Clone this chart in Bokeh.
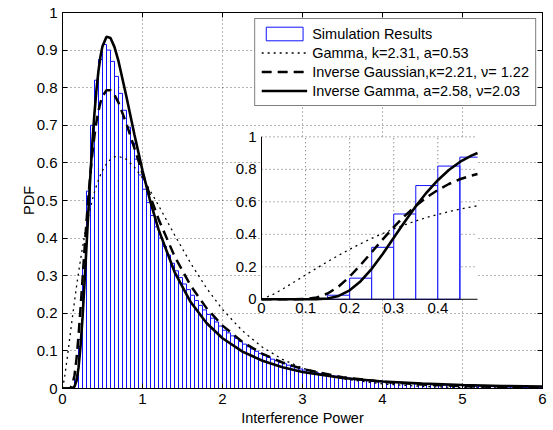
import numpy as np
from bokeh.plotting import figure
from bokeh.models import Range1d, LinearAxis, FixedTicker, CustomJSTickFormatter
from bokeh.embed import file_html
from bokeh.resources import INLINE
from bokeh.core.properties import value

FONT = "Liberation Sans"

# ---------------- data ----------------
x_ticks = [0, 1, 2, 3, 4, 5, 6]
x_tick_labels = ["0", "1", "2", "3", "4", "5", "6"]
y_ticks = [0, 0.1, 0.2, 0.3, 0.4, 0.5, 0.6, 0.7, 0.8, 0.9, 1]
y_tick_labels = ["0", "0.1", "0.2", "0.3", "0.4", "0.5", "0.6", "0.7", "0.8", "0.9", "1"]

inset_x_ticks = [0, 0.1, 0.2, 0.3, 0.4]
inset_x_tick_labels = ["0", "0.1", "0.2", "0.3", "0.4"]
inset_y_ticks = [0, 0.2, 0.4, 0.6, 0.8, 1]
inset_y_tick_labels = ["0", "0.2", "0.4", "0.6", "0.8", "1"]

bin_width = 0.05
hist_values = [
    0.000, 0.000, 0.003, 0.025, 0.130, 0.320, 0.525, 0.700, 0.820, 0.875,
    0.915, 0.900, 0.870, 0.830, 0.785, 0.740, 0.695, 0.653, 0.610, 0.568,
    0.530, 0.495, 0.460, 0.430, 0.400, 0.378, 0.355, 0.333, 0.313, 0.295,
    0.278, 0.263, 0.248, 0.234, 0.221, 0.209, 0.197, 0.187, 0.177, 0.166,
    0.155, 0.148, 0.140, 0.133, 0.125, 0.118, 0.111, 0.105, 0.099, 0.093,
    0.088, 0.083, 0.078, 0.074, 0.069, 0.066, 0.062, 0.058, 0.055, 0.052,
    0.049, 0.047, 0.044, 0.042, 0.040, 0.038, 0.036, 0.034, 0.033, 0.031,
    0.030, 0.028, 0.027, 0.026, 0.025, 0.024, 0.023, 0.022, 0.021, 0.020,
    0.019, 0.018, 0.017, 0.017, 0.016, 0.015, 0.014, 0.014, 0.013, 0.012,
    0.012, 0.011, 0.011, 0.010, 0.010, 0.009, 0.009, 0.008, 0.008, 0.008,
    0.007, 0.007, 0.007, 0.006, 0.006, 0.006, 0.005, 0.005, 0.005, 0.005,
    0.004, 0.004, 0.004, 0.004, 0.004, 0.003, 0.003, 0.003, 0.003, 0.003,
]

curve_x = [0, 0.025, 0.05, 0.075, 0.1, 0.125, 0.15, 0.175, 0.2, 0.225, 0.25,
           0.275, 0.3, 0.325, 0.35, 0.375, 0.4, 0.425, 0.45, 0.475, 0.49, 0.5,
           0.55, 0.6, 0.65, 0.7, 0.8, 0.9, 1.0, 1.1, 1.2, 1.4, 1.6, 1.8, 2.0,
           2.25, 2.5, 2.75, 3.0, 3.5, 4.0, 4.5, 5.0, 5.5, 6.0]

gamma_pdf = [0, 0.0281, 0.0664, 0.1077, 0.1497, 0.1913, 0.2318, 0.2706, 0.3074,
             0.3421, 0.3747, 0.4050, 0.4330, 0.4587, 0.4822, 0.5035, 0.5226,
             0.5397, 0.5549, 0.5682, 0.5753, 0.5797, 0.5977, 0.6095, 0.6159,
             0.6176, 0.6092, 0.5886, 0.5596, 0.5249, 0.4871, 0.4088, 0.3339,
             0.2671, 0.2103, 0.1531, 0.1096, 0.0775, 0.0542, 0.0258, 0.0120,
             0.0054, 0.0024, 0.0011, 0.0005]

inv_gauss_pdf = [0, 0, 0, 0.0001, 0.0017, 0.0108, 0.0353, 0.0788, 0.1394,
                 0.2119, 0.2902, 0.3691, 0.4444, 0.5136, 0.5751, 0.6283, 0.6730,
                 0.7098, 0.7388, 0.7609, 0.7712, 0.7769, 0.7932, 0.7931, 0.7809,
                 0.7602, 0.7037, 0.6383, 0.5722, 0.5091, 0.4510, 0.3519, 0.2741,
                 0.2137, 0.1673, 0.1238, 0.0922, 0.0691, 0.0521, 0.0301, 0.0177,
                 0.0105, 0.0064, 0.0039, 0.0024]

inv_gamma_pdf = [0, 0, 0, 0, 0, 0.0007, 0.0052, 0.0207, 0.0548, 0.1111, 0.1877,
                 0.2792, 0.3783, 0.4779, 0.5728, 0.6586, 0.7331, 0.7955, 0.8453,
                 0.8830, 0.9005, 0.9101, 0.9358, 0.9322, 0.9079, 0.8704, 0.7754,
                 0.6743, 0.5794, 0.4954, 0.4231, 0.3103, 0.2306, 0.1742, 0.1337,
                 0.0982, 0.0737, 0.0564, 0.0439, 0.0278, 0.0186, 0.0129, 0.0092,
                 0.0068, 0.0052]

labels = ["Simulation Results",
          "Gamma, k=2.31, a=0.53",
          "Inverse Gaussian,\u03ba=2.21, \u03bd= 1.22",
          "Inverse Gamma, a=2.58, \u03bd=2.03"]

BAR_BLUE = "#1010ff"
DOT = dict(line_color="black", line_width=1.3, line_dash="2 4")
DASH = dict(line_color="black", line_width=2.5, line_dash="10 6")
SOLID = dict(line_color="black", line_width=2.6)

# ---------------- main figure ----------------
p = figure(width=553, height=430, x_range=Range1d(0, 6), y_range=Range1d(0, 1),
           output_backend="svg", toolbar_location=None,
           min_border_left=62, min_border_right=11, min_border_top=12, min_border_bottom=42)
p.background_fill_color = "white"
p.border_fill_color = "white"
p.outline_line_color = "black"
p.outline_line_width = 1

left_edges = np.arange(len(hist_values)) * bin_width
right_edges = left_edges + bin_width
hist_top = np.array(hist_values)

p.quad(left=left_edges, right=right_edges, bottom=0, top=hist_top,
       fill_color="white", line_color=BAR_BLUE, line_width=1, legend_label=labels[0])
p.line(curve_x, gamma_pdf, legend_label=labels[1], **DOT)
p.line(curve_x, inv_gauss_pdf, legend_label=labels[2], **DASH)
p.line(curve_x, inv_gamma_pdf, legend_label=labels[3], **SOLID)

# axes
xa = p.xaxis[0]
ya = p.yaxis[0]
xa.ticker = FixedTicker(ticks=x_ticks)
ya.ticker = FixedTicker(ticks=y_ticks)
xa.major_label_overrides = dict(zip(x_ticks, x_tick_labels))
ya.major_label_overrides = dict(zip(y_ticks, y_tick_labels))
xa.axis_label = "Interference Power"
ya.axis_label = "PDF"
for ax in (xa, ya):
    ax.major_tick_in = 5
    ax.major_tick_out = 0
    ax.minor_tick_line_color = None
    ax.axis_line_color = "black"
    ax.major_tick_line_color = "black"
    ax.major_label_text_font = FONT
    ax.major_label_text_font_size = "15px"
    ax.major_label_text_color = "black"
    ax.axis_label_text_font = FONT
    ax.axis_label_text_font_size = "14.5px"
    ax.axis_label_text_font_style = "normal"
    ax.axis_label_text_color = "black"
    ax.major_label_standoff = 5
xa.axis_label_standoff = 3
ya.axis_label_standoff = -3

for loc, ticks in (("above", x_ticks), ("right", y_ticks)):
    ax = LinearAxis(ticker=FixedTicker(ticks=ticks),
                    formatter=CustomJSTickFormatter(code="return ''"),
                    major_tick_in=5, major_tick_out=0,
                    minor_tick_line_color=None, major_label_standoff=0,
                    major_label_text_font_size="1px", axis_line_color="black")
    p.add_layout(ax, loc)

p.xgrid.grid_line_color = "black"
p.ygrid.grid_line_color = "black"
p.xgrid.grid_line_alpha = 0.6
p.ygrid.grid_line_alpha = 0.6
p.xgrid.grid_line_dash = "1 3"
p.ygrid.grid_line_dash = "1 3"

# legend
lg = p.legend[0]
lg.location = "top_right"
lg.margin = 6
lg.padding = 6
lg.spacing = 2
lg.glyph_width = 46
lg.glyph_height = 17
lg.label_height = 17
lg.label_standoff = 5
lg.label_text_font = FONT
lg.label_text_font_size = "14.5px"
lg.label_text_color = "black"
lg.border_line_color = "black"
lg.border_line_width = 1
lg.background_fill_color = "white"
lg.background_fill_alpha = 1

# ---------------- inset ----------------
inset_xmax = 0.49
inset = p.subplot(x_source=Range1d(0, inset_xmax), y_source=Range1d(0, 1),
                  x_target=Range1d(2.4875, 5.1875), y_target=Range1d(0.2373, 0.6693))

inset.quad(left=[0], right=[inset_xmax], bottom=[0], top=[1],
           fill_color="white", line_color=None)
# inset grid
gx = inset_x_ticks[1:]
inset.segment(x0=gx, y0=[0] * len(gx), x1=gx, y1=[1] * len(gx),
              line_color="black", line_alpha=0.6, line_dash="1 3", line_width=1)
gy = inset_y_ticks[1:]
inset.segment(x0=[0] * len(gy), y0=gy, x1=[inset_xmax] * len(gy), y1=gy,
              line_color="black", line_alpha=0.6, line_dash="1 3", line_width=1)

# full bins inside the inset, then the bin cut by the inset edge (no right side)
full = right_edges <= inset_xmax + 1e-9
inset.quad(left=left_edges[full], right=right_edges[full],
           bottom=0, top=hist_top[full], fill_color="white", line_color=BAR_BLUE, line_width=1)
cut = (left_edges < inset_xmax) & ~full
for l, t in zip(left_edges[cut], hist_top[cut]):
    inset.line([l, l, inset_xmax], [0, t, t], line_color=BAR_BLUE, line_width=1)

cx = np.array(curve_x)
cm = cx <= inset_xmax
inset.line(cx[cm], np.array(gamma_pdf)[cm], **DOT)
inset.line(cx[cm], np.array(inv_gauss_pdf)[cm], **DASH)
inset.line(cx[cm], np.array(inv_gamma_pdf)[cm], **SOLID)

# inset axis lines
inset.segment(x0=[0, 0], y0=[0, 0], x1=[inset_xmax, 0], y1=[0, 1],
              line_color="black", line_width=1)
# inset tick labels
inset.text(x=inset_x_ticks, y=[0] * len(inset_x_ticks), text=inset_x_tick_labels,
           text_align="center", text_baseline="top", y_offset=4,
           text_font=value(FONT), text_font_size="15px", text_color="black")
inset.text(x=[0] * len(inset_y_ticks), y=inset_y_ticks, text=inset_y_tick_labels,
           text_align="right", text_baseline="middle", x_offset=-5,
           text_font=value(FONT), text_font_size="15px", text_color="black")

open("out.html", "w").write(file_html(p, INLINE))
